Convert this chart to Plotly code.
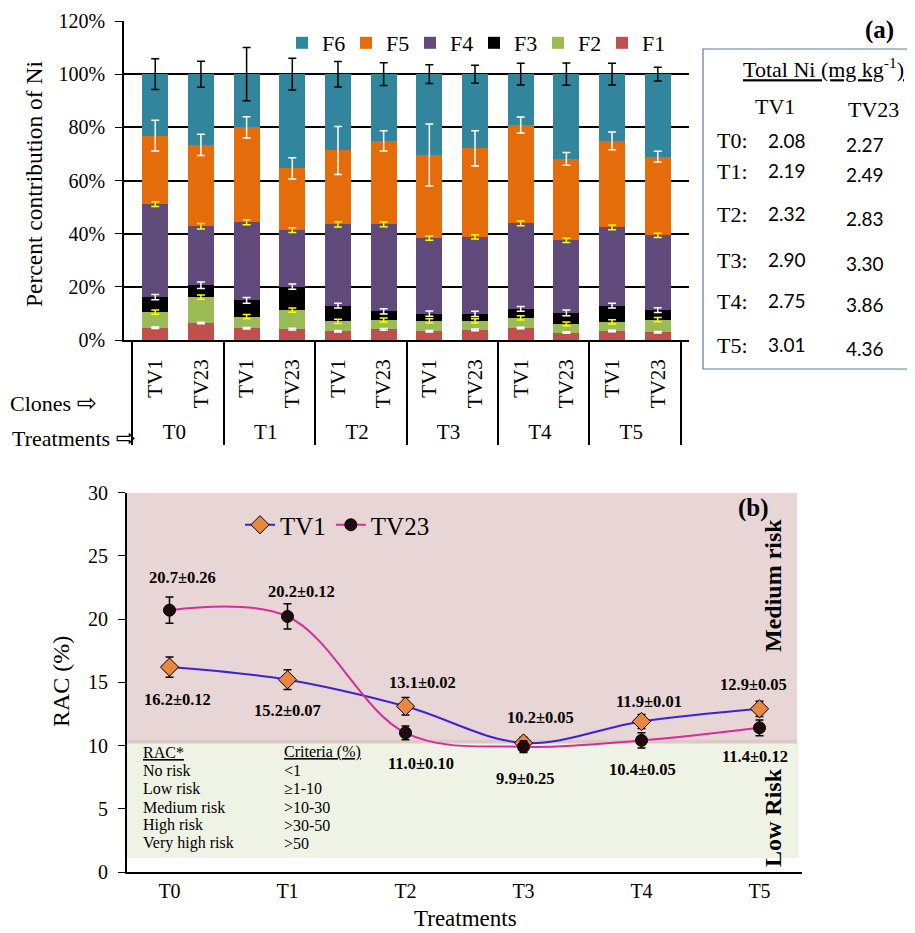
import plotly.graph_objects as go
import numpy as np

# page body has an 8px margin: figure is sized so that it fills the 915x933 window
OFF = 8
W, H = 915 - OFF, 933 - OFF
SERIF = "Liberation Serif"

# ---------------- data (a) ----------------
treatments = ["T0", "T1", "T2", "T3", "T4", "T5"]
clones = ["TV1", "TV23"]
fractions = ["F1", "F2", "F3", "F4", "F5", "F6"]
frac_colors = ["#c0504d", "#9bbb59", "#000000", "#604a7b", "#e46c0a", "#31859c"]
err_colors = ["white", "#ffff00", "white", "#ffff00", "white", "black"]

# order: T0-TV1, T0-TV23, T1-TV1, ..., T5-TV23
F1 = [4.6, 6.4, 4.4, 4.1, 3.3, 4.0, 3.3, 3.8, 4.5, 2.8, 3.4, 2.9]
F2 = [5.9, 9.7, 4.4, 7.1, 3.7, 3.5, 3.9, 3.4, 3.8, 3.3, 3.4, 4.8]
F3 = [5.6, 4.5, 6.1, 8.9, 5.9, 3.3, 2.7, 2.6, 3.4, 4.1, 6.1, 3.5]
F4 = [35.0, 22.2, 29.4, 21.2, 30.6, 32.7, 28.4, 29.0, 32.2, 27.3, 29.5, 28.2]
F5 = [25.8, 30.6, 35.7, 23.3, 27.8, 31.4, 31.3, 33.3, 37.0, 30.6, 32.5, 29.6]
F6 = [23.1, 26.6, 20.0, 35.4, 28.7, 25.1, 30.4, 27.9, 19.1, 31.9, 25.1, 31.0]

E1 = [0.3, 0.3, 0.3, 0.3, 0.3, 0.3, 0.3, 0.3, 0.3, 0.3, 0.3, 0.3]
E2 = [0.8, 0.8, 0.8, 0.8, 0.8, 0.8, 0.8, 0.8, 0.8, 0.7, 0.8, 0.8]
E3 = [1.0, 1.2, 1.1, 1.0, 0.9, 1.0, 1.0, 1.0, 0.9, 1.1, 0.9, 0.9]
E4 = [0.9, 1.0, 0.9, 0.9, 1.0, 0.9, 0.8, 0.8, 0.9, 0.8, 0.9, 0.8]
E5 = [5.8, 4.0, 4.0, 4.0, 9.0, 3.8, 11.7, 6.6, 3.0, 2.4, 3.3, 2.0]
E6 = [5.8, 4.9, 10.0, 6.0, 4.8, 4.3, 3.5, 3.4, 4.1, 4.2, 4.1, 2.6]

total_ni_tv1 = ["2.08", "2.19", "2.32", "2.90", "2.75", "3.01"]
total_ni_tv23 = ["2.27", "2.49", "2.83", "3.30", "3.86", "4.36"]

# ---------------- data (b) ----------------
rac_tv1 = [16.2, 15.2, 13.1, 10.2, 11.9, 12.9]
rac_tv23 = [20.7, 20.2, 11.0, 9.9, 10.4, 11.4]
rac_tv1_err = [0.8, 0.78, 0.69, 0.45, 0.55, 0.6]
rac_tv23_err = [1.03, 1.0, 0.55, 0.45, 0.6, 0.62]
lab_tv1 = ["16.2±0.12", "15.2±0.07", "13.1±0.02", "10.2±0.05", "11.9±0.01", "12.9±0.05"]
lab_tv23 = ["20.7±0.26", "20.2±0.12", "11.0±0.10", "9.9±0.25", "10.4±0.05", "11.4±0.12"]
criteria_names = ["No risk", "Low risk", "Medium risk", "High risk", "Very high risk"]
criteria_vals = ["<1", "≥1-10", ">10-30", ">30-50", ">50"]

xcat = [[t for t in treatments for _ in clones], [c for _ in treatments for c in clones]]
segs = [F1, F2, F3, F4, F5, F6]
errs = [E1, E2, E3, E4, E5, E6]
cum = np.cumsum(np.array(segs), axis=0)

def px_x(v):
    return (v - OFF) / W

def px_y(v):
    return 1 - (v - OFF) / H

fig = go.Figure()
for name, vals, col in zip(fractions, segs, frac_colors):
    fig.add_trace(go.Bar(x=xcat, y=vals, name=name, marker=dict(color=col, line=dict(width=0)),
                         xaxis="x", yaxis="y", legend="legend"))
for i in range(6):
    fig.add_trace(go.Scatter(x=xcat, y=cum[i], mode="markers", marker=dict(opacity=0, size=1),
                             error_y=dict(type="data", array=errs[i], color=err_colors[i],
                                          thickness=1.5, width=4),
                             showlegend=False, hoverinfo="skip", xaxis="x", yaxis="y"))

# bottom chart
fig.add_trace(go.Scatter(x=treatments, y=rac_tv1, name="TV1", mode="lines+markers",
                         line=dict(color="#3b22d4", width=2, shape="spline", smoothing=1),
                         marker=dict(symbol="diamond", size=14, color="#e8873f",
                                     line=dict(color="black", width=1)),
                         error_y=dict(type="data", array=rac_tv1_err, color="black",
                                      thickness=1.5, width=4),
                         xaxis="x2", yaxis="y2", legend="legend2"))
fig.add_trace(go.Scatter(x=treatments, y=rac_tv23, name="TV23", mode="lines+markers",
                         line=dict(color="#d62c9e", width=2, shape="spline", smoothing=1),
                         marker=dict(symbol="circle", size=12, color="#1e0b0b",
                                     line=dict(color="black", width=1)),
                         error_y=dict(type="data", array=rac_tv23_err, color="black",
                                      thickness=1.5, width=4),
                         xaxis="x2", yaxis="y2", legend="legend2"))

shapes = [
    dict(type="rect", xref="x2 domain", yref="y2", x0=0, x1=0.9926, y0=10.3, y1=30,
         fillcolor="#e8d5d5", line=dict(width=0), layer="below"),
    dict(type="rect", xref="x2 domain", yref="y2", x0=0, x1=0.995, y0=1.1, y1=10.3,
         fillcolor="#eff3e6", line=dict(width=0), layer="below"),
    dict(type="rect", xref="x2 domain", yref="y2", x0=0, x1=0.9926, y0=10.15, y1=10.45,
         fillcolor="#dccbc2", line=dict(width=0), layer="below"),
    dict(type="rect", xref="paper", yref="paper", x0=px_x(703), x1=px_x(913),
         y0=px_y(369), y1=px_y(49), line=dict(color="#5b7aa3", width=1.2)),
]

ann = []
def A(x, y, text, size, font=SERIF, color="black", xanchor="center", angle=0, bold=False):
    ann.append(dict(x=px_x(x), y=px_y(y), xref="paper", yref="paper", text=text,
                    showarrow=False, xanchor=xanchor, yanchor="middle", textangle=angle,
                    font=dict(family=font, size=size, color=color,
                              weight="bold" if bold else "normal")))

ARROW = "<span style='font-family:DejaVu Sans;font-size:24px'>⇨</span>"
A(34, 184, "Percent contribution of Ni", 23.5, angle=-90)
A(8, 403, "Clones " + ARROW, 22, xanchor="left")
A(10, 438, "Treatments " + ARROW, 22, xanchor="left")
A(879, 30, "(a)", 25, bold=True)
A(823, 68, "<u>Total Ni (mg kg</u><sup>-1</sup><u>)</u>", 22)
A(775, 106, "TV1", 22)
A(873, 110, "TV23", 22)
row_y = [141, 172, 215, 260, 301, 345]
for i, t in enumerate(treatments):
    A(715, row_y[i], t + ":", 22, xanchor="left")
    A(787, row_y[i] - 1, total_ni_tv1[i], 19, font="Lato")
    A(865, row_y[i] + 3, total_ni_tv23[i], 19, font="Lato")

# bottom chart labels
A(61, 682, "RAC (%)", 24, angle=-90)
A(465, 918, "Treatments", 23)
A(753, 508, "(b)", 25, bold=True)
A(773, 586, "Medium risk", 24, angle=-90, bold=True)
A(773, 818, "Low Risk", 24, angle=-90, bold=True)
A(141, 752, "<u>RAC*</u>", 16, xanchor="left")
A(282, 752, "<u>Criteria (%)</u>", 16, xanchor="left")
crit_y = [770, 788, 807, 825, 843]
for i in range(5):
    A(141, crit_y[i], criteria_names[i], 16, xanchor="left")
    A(282, crit_y[i], criteria_vals[i], 16, xanchor="left")

tv1_lab_pos = [(0.07, 13.6), (1.0, 12.8), (2.14, 15.0), (3.14, 12.2), (4.06, 13.5), (4.95, 14.85)]
tv23_lab_pos = [(0.11, 23.25), (1.12, 22.15), (2.13, 8.54), (3.02, 7.43), (4.01, 8.14), (4.96, 9.1)]
for labs, pos in ((lab_tv1, tv1_lab_pos), (lab_tv23, tv23_lab_pos)):
    for t, (xx, yy) in zip(labs, pos):
        ann.append(dict(x=xx, y=yy, xref="x2", yref="y2", text=t, showarrow=False,
                        font=dict(family=SERIF, size=16.5, color="black", weight="bold")))

fig.update_layout(
    width=W, height=H, margin=dict(l=0, r=0, t=0, b=0, autoexpand=False),
    paper_bgcolor="white", plot_bgcolor="rgba(0,0,0,0)",
    barmode="stack", bargap=0.43,
    font=dict(family=SERIF, color="black"),
    xaxis=dict(type="multicategory", domain=[px_x(124), px_x(689)], anchor="y",
               automargin=False,
               showline=True, linecolor="black", linewidth=1.5, ticks="",
               tickangle=-90, tickfont=dict(family=SERIF, size=21, color="black"),
               ticklabelstandoff=9,
               showdividers=True, dividercolor="black", dividerwidth=1.5, showgrid=False),
    yaxis=dict(domain=[px_y(340), px_y(21)], range=[0, 120], dtick=20, ticksuffix="%",
               automargin=False,
               showline=True, linecolor="black", linewidth=1.5, ticks="outside", ticklen=7,
               tickcolor="black", showgrid=True, gridcolor="black", gridwidth=1.5,
               zeroline=False, tickfont=dict(family=SERIF, size=20, color="black"),
               ticklabelstandoff=6),
    xaxis2=dict(domain=[px_x(127), px_x(802)], anchor="y2", type="category",
                automargin=False,
                showline=True, linecolor="black", linewidth=2, ticks="",
                tickfont=dict(family=SERIF, size=20, color="black"), showgrid=False),
    yaxis2=dict(domain=[px_y(872), px_y(492.5)], anchor="x2", range=[0, 30], dtick=5,
                automargin=False,
                showline=True, linecolor="black", linewidth=2, ticks="outside", ticklen=7,
                tickcolor="black", showgrid=False, zeroline=False,
                tickfont=dict(family=SERIF, size=20, color="black"), ticklabelstandoff=6),
    legend=dict(orientation="h", x=px_x(282), y=px_y(43), xanchor="left", yanchor="middle",
                traceorder="reversed", font=dict(family=SERIF, size=22, color="black"),
                bgcolor="rgba(0,0,0,0)", itemwidth=30, entrywidth=19, entrywidthmode="pixels"),
    legend2=dict(orientation="h", x=px_x(240), y=px_y(525), xanchor="left", yanchor="middle",
                 font=dict(family=SERIF, size=25, color="black"), bgcolor="rgba(0,0,0,0)",
                 itemwidth=30),
    shapes=shapes, annotations=ann,
)

fig.write_html("out.html")
